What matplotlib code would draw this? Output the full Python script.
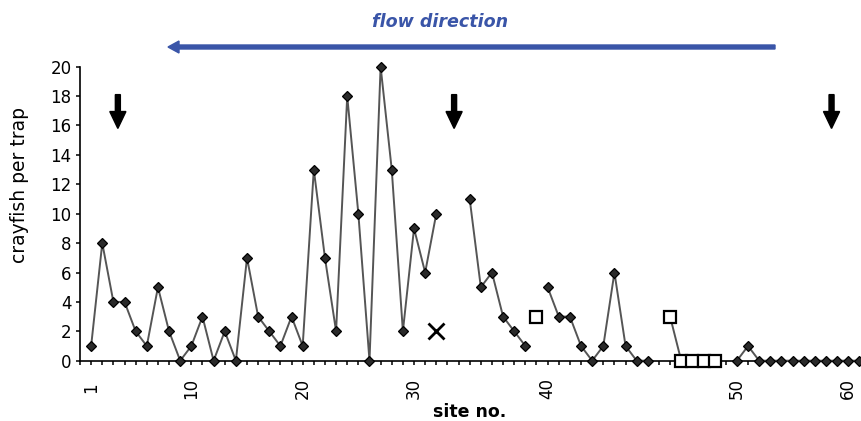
import numpy as np
import matplotlib
matplotlib.use("Agg")
import matplotlib.pyplot as plt
from matplotlib.patches import FancyArrow

# ---------------- data ----------------
n_cat = 70
categories = np.arange(1, n_cat + 1)

# crayfish per trap (diamond series); None = no value (gap)
diamond_vals = [1, 8, 4, 4, 2, 1, 5, 2, 0, 1,
                3, 0, 2, 0, 7, 3, 2, 1, 3, 1,
                13, 7, 2, 18, 10, 0, 20, 13, 2, 9,
                6, 10, None, None, 11, 5, 6, 3, 2, 1,
                None, 5, 3, 3, 1, 0, 1, 6, 1, 0,
                0, None, None, None, None, None, None, None, 0, 1,
                0, 0, 0, 0, 0, 0, 0, 0, 0, 0]

# open-square series (category, value)
square_cats = [41, 53, 54, 55, 56, 57]
square_vals = [3, 3, 0, 0, 0, 0]

# cross marker (category, value)
cross_cats = [32]
cross_vals = [2]

# down arrows (category position)
arrow_cats = [3.4, 33.6, 67.5]

tick_label_map = {1: "1", 10: "10", 20: "20", 30: "30", 42: "40", 59: "50", 69: "60"}
y_ticks = list(range(0, 21, 2))

# ---------------- figure ----------------
W, H = 862, 421
fig = plt.figure(figsize=(W / 100, H / 100), dpi=100)
ax_left, ax_bottom_px, ax_top_px = 80, 360.7, 66.7
ax = fig.add_axes([ax_left / W, 1 - ax_bottom_px / H, (W - ax_left) / W,
                   (ax_bottom_px - ax_top_px) / H])

dv = np.array([np.nan if v is None else v for v in diamond_vals], dtype=float)

line_col = "#555555"
# square series (line + markers)
ax.plot(square_cats[1:], square_vals[1:], color=line_col, lw=1.4, zorder=3,
        clip_on=False)
ax.plot(square_cats, square_vals, ls="none", marker="s", ms=8, mfc="white",
        mec="black", mew=1.6, zorder=5, clip_on=False)

# diamond series
ax.plot(categories, dv, color=line_col, lw=1.4, zorder=3, clip_on=False)
ax.plot(categories, dv, ls="none", marker="D", ms=5.0, mfc="#2a2a2a",
        mec="black", mew=0.9, zorder=4, clip_on=False)

# cross
ax.plot(cross_cats, cross_vals, ls="none", marker="x", ms=11, mec="black",
        mew=2.0, zorder=5)

# axes styling
ax.set_xlim(0, (W - ax_left) / 11.134)
ax.set_ylim(0, 20)
for s in ("top", "right"):
    ax.spines[s].set_visible(False)
for s in ("left", "bottom"):
    ax.spines[s].set_linewidth(1.2)
    ax.spines[s].set_color("black")
    ax.spines[s].set_zorder(2)

xt = list(range(0, n_cat + 1))
ax.set_xticks(xt, [tick_label_map.get(t, "") for t in xt])
ax.tick_params(axis="x", direction="out", length=3.2, width=1.1, pad=16.5,
               labelsize=12)
plt.setp(ax.get_xticklabels(), rotation=90, va="center", ha="center")
ax.set_yticks(y_ticks, [str(v) for v in y_ticks])
ax.tick_params(axis="y", direction="out", length=3.2, width=1.1, pad=3,
               labelsize=12)

ax.set_ylabel("crayfish per trap", fontsize=13.5, va="center")
ax.yaxis.set_label_coords((20 - ax_left) / (W - ax_left),
                          (ax_bottom_px - 185) / (ax_bottom_px - ax_top_px))
ax.set_xlabel("site no.", fontsize=12.5, fontweight="bold", va="baseline")
ax.xaxis.set_label_coords((470 - ax_left) / (W - ax_left),
                          (ax_bottom_px - 417.3) / (ax_bottom_px - ax_top_px))

# down arrows (data coordinates, vertical)
for c in arrow_cats:
    ax.add_patch(FancyArrow(c, 18.1, 0, -2.3, width=0.45, head_width=1.45,
                            head_length=1.15, length_includes_head=True,
                            color="black", clip_on=False, zorder=6))

# flow direction arrow + title (figure inches)
blue = "#3a55a8"
fig.patches.append(FancyArrow(7.75, (H - 47) / 100, -6.07, 0, width=0.04,
                              head_width=0.12, head_length=0.11,
                              length_includes_head=True, color=blue,
                              transform=fig.dpi_scale_trans, figure=fig))
fig.text(440 / W, 1 - 27.3 / H, "flow direction", color=blue, fontsize=12.6,
         fontweight="bold", fontstyle="italic", ha="center", va="baseline")

fig.savefig("out.png", dpi=100)
